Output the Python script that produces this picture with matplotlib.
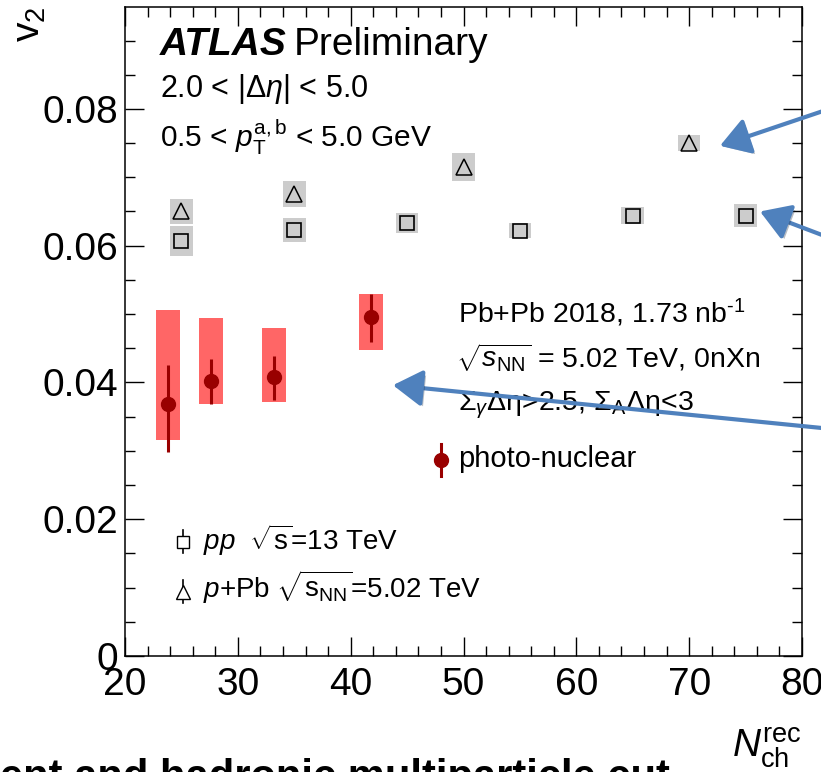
import matplotlib
matplotlib.use("Agg")
import matplotlib.pyplot as plt
import matplotlib.patheffects as pe
from matplotlib.ticker import MultipleLocator
import numpy as np

plt.rcParams['font.family'] = ['Liberation Sans', 'DejaVu Sans']
plt.rcParams['mathtext.fontset'] = 'custom'
plt.rcParams['mathtext.rm'] = 'Liberation Sans'
plt.rcParams['mathtext.it'] = 'Liberation Sans:italic'
plt.rcParams['mathtext.bf'] = 'Liberation Sans:bold'
plt.rcParams['mathtext.sf'] = 'Liberation Sans'

# photo-nuclear Pb+Pb (0nXn)
pn_x = [23.8, 27.6, 33.2, 41.8]
pn_v2 = [0.0368, 0.0402, 0.0408, 0.0495]
pn_stat_lo = [0.0069, 0.0033, 0.0033, 0.0036]
pn_stat_hi = [0.0057, 0.0032, 0.0031, 0.0034]
pn_sys_lo = [0.0052, 0.0033, 0.0037, 0.0047]
pn_sys_hi = [0.0138, 0.0092, 0.0071, 0.0035]

# pp 13 TeV
pp_x = [25, 35, 45, 55, 65, 75]
pp_v2 = [0.0607, 0.0623, 0.0633, 0.0622, 0.0644, 0.0644]
pp_sys = [0.0022, 0.0018, 0.0015, 0.0011, 0.0012, 0.0017]

# p+Pb 5.02 TeV
ppb_x = [25, 35, 50, 70]
ppb_v2 = [0.0650, 0.0675, 0.0715, 0.0750]
ppb_sys = [0.0018, 0.0019, 0.0020, 0.0012]

red_box = '#ff6666'
dark_red = '#990000'
grey_box = '#cccccc'
arrow_blue = '#4f81bd'

fig = plt.figure(figsize=(8.21, 7.72), dpi=100)
ax = fig.add_axes([125/821, 1-656/772, 677/821, 649/772])

# systematic boxes
ax.bar(pp_x, 2*np.array(pp_sys), bottom=np.array(pp_v2)-np.array(pp_sys),
       width=2.0, color=grey_box, zorder=1)
ax.bar(ppb_x, 2*np.array(ppb_sys), bottom=np.array(ppb_v2)-np.array(ppb_sys),
       width=2.0, color=grey_box, zorder=1)
ax.bar(pn_x, np.array(pn_sys_lo)+np.array(pn_sys_hi), bottom=np.array(pn_v2)-np.array(pn_sys_lo),
       width=2.1, color=red_box, zorder=1)

ax.plot(pp_x, pp_v2, ls='none', marker='s', ms=10, mfc='none', mec='black', mew=1.2, zorder=3)
ax.plot(ppb_x, ppb_v2, ls='none', marker='^', ms=11, mfc='none', mec='black', mew=1.1, zorder=3)
ax.errorbar(pn_x, pn_v2, yerr=[pn_stat_lo, pn_stat_hi], fmt='o', ms=10, color=dark_red,
            elinewidth=2.2, capsize=0, zorder=4)

ax.set_xlim(20, 80)
ax.set_ylim(0, 0.0949)
ax.xaxis.set_major_locator(MultipleLocator(10))
ax.xaxis.set_minor_locator(MultipleLocator(2))
ax.yaxis.set_major_locator(MultipleLocator(0.02))
ax.yaxis.set_minor_locator(MultipleLocator(0.005))
ax.yaxis.set_major_formatter(matplotlib.ticker.FuncFormatter(lambda v, p: '0' if v == 0 else f'{v:.2f}'))
ax.tick_params(which='both', direction='in', top=True, right=True, labelsize=28, width=1.0)
ax.tick_params(which='major', length=14)
ax.tick_params(which='minor', length=7)
ax.tick_params(axis='x', pad=8)
ax.tick_params(axis='y', pad=5)
for s in ax.spines.values():
    s.set_linewidth(1.1)

# labels
fig.text(802/821, (772-757)/772, r'$N_{\rm ch}^{\rm rec}$', fontsize=28, ha='right', va='baseline')
fig.text(12/821, 1-6/772, r'v$_{2}$', fontsize=28, rotation=90, ha='left', va='top')

# header
ax.text(0.0517, 0.926, 'ATLAS', transform=ax.transAxes, fontsize=28, weight='bold', style='italic')
ax.text(0.2496, 0.926, 'Preliminary', transform=ax.transAxes, fontsize=28)
ax.text(0.0517, 0.8613, r'2.0 < $|\Delta\eta|$ < 5.0', transform=ax.transAxes, fontsize=22)
ax.text(0.0517, 0.7843, r'0.5 < $p_{\rm T}^{\rm a,b}$ < 5.0 GeV', transform=ax.transAxes, fontsize=21.5)

ax.text(0.4919, 0.5131, r'Pb+Pb 2018, 1.73 nb$^{\text{-1}}$', transform=ax.transAxes, fontsize=20.5)
ax.text(0.4890, 0.4438, r'$\sqrt{s_{\rm NN}}$ = 5.02 TeV, 0nXn', transform=ax.transAxes, fontsize=20.5)
ax.text(0.4919, 0.379, r'$\Sigma_{\gamma}\Delta\mathrm{\eta}$>2.5, $\Sigma_{\rm A}\Delta\mathrm{\eta}$<3',
        transform=ax.transAxes, fontsize=20.5)
ax.text(0.4919, 0.2912, 'photo-nuclear', transform=ax.transAxes, fontsize=21)

# hand-made legend glyphs
ax.plot([0.4668, 0.4668], [0.277, 0.327], transform=ax.transAxes, color=dark_red, lw=2.2, clip_on=False)
ax.plot([0.4668], [0.302], transform=ax.transAxes, marker='o', ms=10, color=dark_red, clip_on=False)
ax.plot([0.0857, 0.0857], [0.158, 0.194], transform=ax.transAxes, color='black', lw=1.2)
ax.plot([0.0857], [0.1757], transform=ax.transAxes, marker='s', ms=9, mfc='white', mec='black', mew=1.0)
ax.plot([0.0857, 0.0857], [0.081, 0.117], transform=ax.transAxes, color='black', lw=1.2)
ax.plot([0.0857], [0.0986], transform=ax.transAxes, marker='^', ms=10, mfc='white', mec='black', mew=1.0)
ax.text(0.1152, 0.1633, r'$pp$  $\sqrt{\rm s}$=13 TeV', transform=ax.transAxes, fontsize=20)
ax.text(0.1152, 0.0894, r'$p$+Pb $\sqrt{\rm s_{NN}}$=5.02 TeV', transform=ax.transAxes, fontsize=20)

# blue call-out arrows coming from the slide
arrows = [((72.73, 0.0746), (90.5, 0.0845)),
          ((76.28, 0.0650), (90.5, 0.0561)),
          ((43.75, 0.0396), (90.5, 0.0319))]
for tip, tail in arrows:
    ann = ax.annotate('', xy=tip, xytext=tail, xycoords='data', textcoords='data',
                      annotation_clip=False, zorder=10,
                      arrowprops=dict(arrowstyle='-|>,head_length=0.45,head_width=0.28',
                                      mutation_scale=40, lw=3, color=arrow_blue,
                                      shrinkA=0, shrinkB=0))
    ann.arrow_patch.set_path_effects([pe.SimplePatchShadow(offset=(2, -2), alpha=0.3), pe.Normal()])

# slide text cut off at the bottom edge
fig.text(0.0, -0.022, 'ent and hadronic multiparticle cut', fontsize=30, weight='bold', va='baseline')

fig.savefig('out.png', dpi=100)
